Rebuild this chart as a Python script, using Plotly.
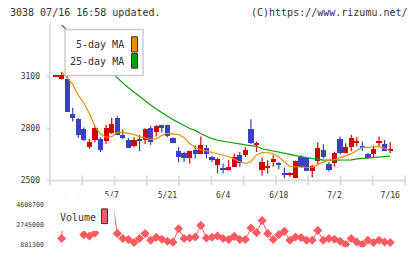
import plotly.graph_objects as go

W, H = 420, 259

# ---------------- data ----------------
opens  = [3100,3089,3089,2885,2857,2800,2696,2734,2743,2730,2777,2862,2768,2734,2702,2738,2734,2806,2783,2821,
          2821,2749,2670,2664,2632,2681,2658,2692,2640,2592,2572,2564,2579,2651,2651,2800,2708,2564,2575,2607,
          2600,2545,2538,2519,2636,2630,2560,2613,2679,2598,2604,2743,2664,2696,2721,2698,2655,2658,2717,2715,2676]
highs  = [3100,3127,3104,2919,2860,2806,2739,2810,2749,2821,2862,2870,2796,2745,2749,2764,2802,2815,2819,2821,
          2821,2749,2692,2666,2672,2702,2753,2705,2642,2632,2598,2617,2655,2664,2692,2853,2725,2632,2617,2645,
          2607,2575,2547,2615,2645,2636,2590,2721,2711,2607,2666,2753,2715,2764,2749,2725,2660,2702,2753,2734,2721]
lows   = [3100,3083,2900,2840,2745,2726,2683,2721,2664,2711,2768,2764,2739,2689,2692,2670,2711,2705,2753,2777,
          2750,2715,2604,2607,2598,2626,2655,2626,2607,2541,2541,2557,2577,2579,2636,2711,2664,2528,2538,2579,
          2564,2513,2521,2519,2574,2557,2519,2589,2626,2551,2579,2651,2655,2668,2696,2670,2625,2632,2696,2670,2658]
closes = [3100,3113,2900,2862,2768,2734,2726,2806,2677,2806,2828,2764,2745,2689,2734,2734,2800,2725,2817,2806,
          2759,2717,2636,2632,2670,2653,2708,2655,2621,2626,2568,2583,2640,2606,2677,2717,2713,2607,2589,2626,
          2596,2532,2543,2613,2579,2557,2585,2692,2636,2564,2664,2660,2696,2749,2730,2694,2630,2683,2730,2674,2681]
ma5 = [None,3125,3094,3055,2992,2947,2885,2811,2769,2749,2753,2777,2777,2772,2765,2753,2746,2737,2740,2759,
       2772,2767,2765,2747,2712,2692,2677,2670,2662,2653,2645,2638,2623,2608,2598,2608,2647,2661,2660,2655,
       2636,2608,2580,2579,2577,2575,2574,2594,2604,2617,2620,2632,2643,2653,2673,2691,2691,2692,2696,2684,2670]
ma25 = [None,3397,3369,3338,3307,3275,3244,3213,3182,3151,3123,3091,3063,3035,3009,2987,2961,2936,2913,2891,
        2874,2851,2834,2817,2800,2789,2769,2755,2741,2732,2726,2721,2715,2711,2705,2701,2697,2683,2677,2670,
        2666,2657,2650,2643,2636,2630,2626,2623,2617,2617,2617,2617,2617,2619,2625,2627,2630,2632,2635,2638,2640]
volume = [None,1440000,9000000,7000000,6000000,1810000,1680000,1960000,2700000,5000000,5500000,1910000,1440000,
          1350000,1070000,1440000,1910000,1280000,1560000,1380000,1190000,1100000,2370000,1440000,1500000,1590000,
          2680000,1500000,1560000,1680000,1440000,1350000,1650000,1350000,1350000,2430000,2000000,3140000,1910000,
          1350000,1810000,2120000,1280000,1590000,1530000,1280000,1280000,2210000,1280000,1440000,1380000,1190000,
          880000,1440000,1120000,880000,1280000,1070000,1280000,1120000,1070000]
date_tick_pos = [10, 20, 30, 40, 50, 60]
date_tick_text = ["5/7", "5/21", "6/4", "6/18", "7/2", "7/16"]
price_ticks = [2500, 2800, 3100]
vol_ticks = [881300, 2745000, 4608700]

# ---------------- style ----------------
RED, BLUE = "#d40000", "#3c41bd"
ORANGE, GREEN = "#f28a00", "#08a008"
VOLC = "#ff5a60"
AX = "#dcdcdc"
TXT = "#333333"
MONO = "DejaVu Sans Mono"

def px(x): return x / W
def py(y): return 1 - y / H

n = len(opens)
idx = list(range(n))
up = [c >= o for o, c in zip(opens, closes)]
cols = [RED if u else BLUE for u in up]

fig = go.Figure()

# wicks
for colr, flag in ((RED, True), (BLUE, False)):
    xs, ys = [], []
    for i in idx:
        if up[i] == flag:
            xs += [i, i, None]
            ys += [lows[i], highs[i], None]
    fig.add_trace(go.Scatter(x=xs, y=ys, mode="lines", line=dict(color=colr, width=1.2),
                             hoverinfo="skip", showlegend=False, xaxis="x", yaxis="y"))

# bodies
base = [min(o, c) for o, c in zip(opens, closes)]
hgt = [max(abs(c - o), 7) for o, c in zip(opens, closes)]
fig.add_trace(go.Bar(x=idx, y=hgt, base=base, width=0.94, marker=dict(color=cols, line=dict(width=0)),
                     showlegend=False, xaxis="x", yaxis="y"))

# moving averages
fig.add_trace(go.Scatter(x=idx, y=ma25, mode="lines", line=dict(color=GREEN, width=1.2),
                         showlegend=False, xaxis="x", yaxis="y"))
fig.add_trace(go.Scatter(x=idx, y=ma5, mode="lines", line=dict(color=ORANGE, width=1.2),
                         showlegend=False, xaxis="x", yaxis="y"))

# volume
fig.add_trace(go.Scatter(x=idx, y=volume, mode="lines+markers",
                         line=dict(color=VOLC, width=1),
                         marker=dict(symbol="diamond", size=7, color=VOLC),
                         cliponaxis=True, connectgaps=False,
                         showlegend=False, xaxis="x2", yaxis="y2"))

xr = [-1.077, 62.657]
xdom = [px(50), px(405)]

shapes = []
# price axes lines
shapes.append(dict(type="line", xref="paper", yref="paper", x0=px(50), x1=px(50), y0=py(24), y1=py(189),
                   line=dict(color=AX, width=2), layer="below"))
shapes.append(dict(type="line", xref="paper", yref="paper", x0=px(47), x1=px(405), y0=py(184), y1=py(184),
                   line=dict(color=AX, width=2), layer="below"))
for k in range(1, 12):
    xx = 50 + k * 355 / 11
    shapes.append(dict(type="line", xref="paper", yref="paper", x0=px(xx), x1=px(xx), y0=py(179), y1=py(189),
                       line=dict(color=AX, width=2), layer="below"))
for v in price_ticks[1:]:
    shapes.append(dict(type="line", xref="paper", yref="y", x0=px(46.5), x1=px(50), y0=v, y1=v,
                       line=dict(color=AX, width=2), layer="below"))

# MA legend box
shapes.append(dict(type="rect", xref="paper", yref="paper", x0=px(65), x1=px(143), y0=py(30), y1=py(77),
                   fillcolor="white", line=dict(color="#cccccc", width=1.5), layer="above"))
shapes.append(dict(type="rect", xref="paper", yref="paper", x0=px(131.5), x1=px(137.5), y0=py(37.5), y1=py(53),
                   fillcolor=ORANGE, line=dict(color="#333", width=1), layer="above"))
shapes.append(dict(type="rect", xref="paper", yref="paper", x0=px(131.5), x1=px(137.5), y0=py(54.5), y1=py(69.5),
                   fillcolor=GREEN, line=dict(color="#333", width=1), layer="above"))
# Volume legend
shapes.append(dict(type="rect", xref="paper", yref="paper", x0=px(53), x1=px(114.5), y0=py(200), y1=py(235.5),
                   fillcolor="white", line=dict(width=0), layer="above"))
shapes.append(dict(type="rect", xref="paper", yref="paper", x0=px(101.5), x1=px(107.5), y0=py(213), y1=py(228),
                   fillcolor=VOLC, line=dict(color="#333", width=1), layer="above"))

annotations = [
    dict(text="3038 07/16 16:58 updated.", x=px(8), y=py(13), xref="paper", yref="paper",
         xanchor="left", yanchor="middle", showarrow=False, font=dict(family=MONO, size=10, color=TXT)),
    dict(text="(C)https://www.rizumu.net/", x=px(410), y=py(13), xref="paper", yref="paper",
         xanchor="right", yanchor="middle", showarrow=False, font=dict(family=MONO, size=10, color=TXT)),
    dict(text="5-day MA", x=px(125.5), y=py(45.5), xref="paper", yref="paper",
         xanchor="right", yanchor="middle", showarrow=False, font=dict(family=MONO, size=10, color=TXT)),
    dict(text="25-day MA", x=px(125.5), y=py(62.5), xref="paper", yref="paper",
         xanchor="right", yanchor="middle", showarrow=False, font=dict(family=MONO, size=10, color=TXT)),
    dict(text="Volume", x=px(58), y=py(222), xref="paper", yref="paper",
         xanchor="left", yanchor="middle", showarrow=False, font=dict(family=MONO, size=10, color=TXT)),
]

vr0 = 881300 - (252 - 249.3) * 92491
vr1 = 4608700 + (209 - 200) * 92491

fig.update_layout(
    width=W, height=H, margin=dict(l=0, r=0, t=0, b=0),
    paper_bgcolor="white", plot_bgcolor="white",
    bargap=0, showlegend=False,
    xaxis=dict(domain=xdom, range=xr, anchor="y", showgrid=False, zeroline=False, showline=False,
               ticks="", tickvals=date_tick_pos, ticktext=date_tick_text, ticklabelstandoff=9,
               tickfont=dict(family=MONO, size=8, color=TXT), fixedrange=True),
    yaxis=dict(domain=[py(184), py(25)], range=[2500, 3400], anchor="x", showgrid=False, zeroline=False,
               showline=False, ticks="", tickvals=price_ticks, ticklabelstandoff=9,
               tickfont=dict(family=MONO, size=8, color=TXT)),
    xaxis2=dict(domain=xdom, range=xr, anchor="y2", visible=False),
    yaxis2=dict(domain=[py(252), py(200)], range=[vr0, vr1], anchor="x2", showgrid=False, zeroline=False,
                showline=False, ticks="", tickvals=vol_ticks, ticktext=[str(v) for v in vol_ticks],
                ticklabelstandoff=5, tickfont=dict(family=MONO, size=6.6, color=TXT)),
    shapes=shapes, annotations=annotations,
)

fig.write_html("out.html")
